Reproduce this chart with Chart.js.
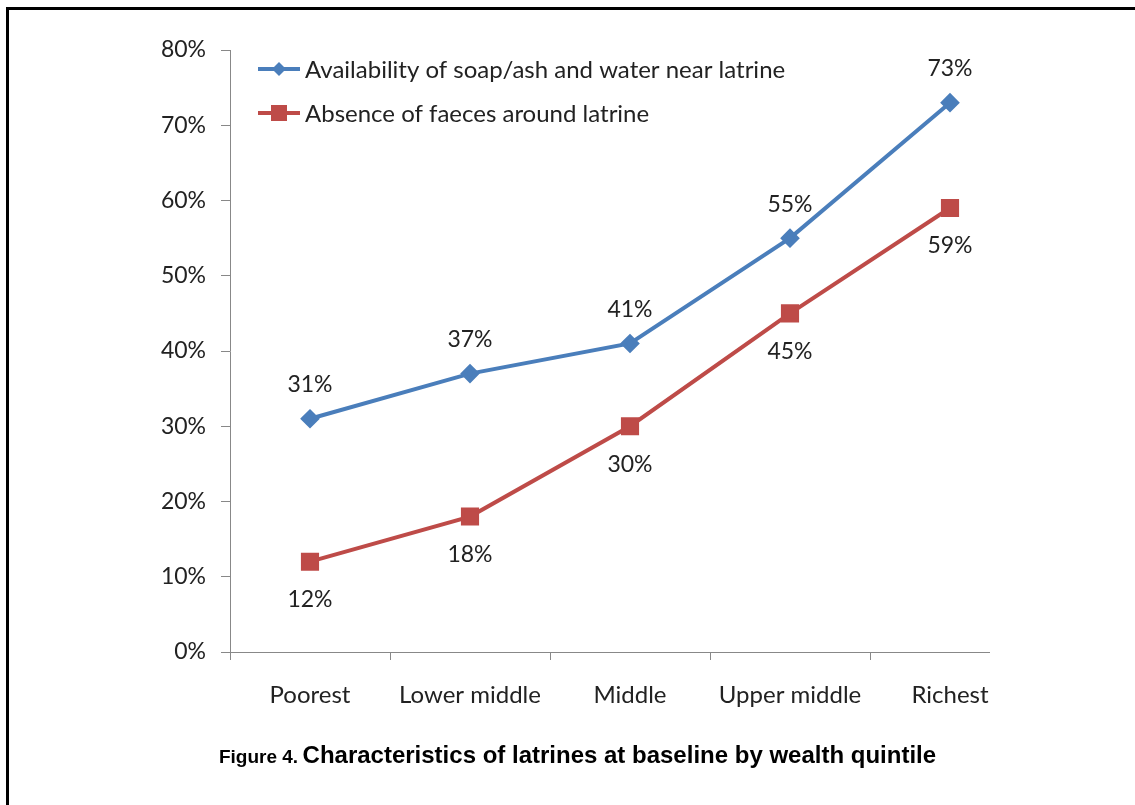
<!DOCTYPE html>
<html>
<head>
<meta charset="utf-8">
<script src="https://cdn.jsdelivr.net/npm/chart.js@4.4.1/dist/chart.umd.min.js"></script>
<style>
  html, body { margin: 0; padding: 0; background: #fff; }
  #wrap { position: relative; width: 1135px; height: 805px; }
  #frame { position: absolute; left: 6px; top: 7px; right: 0; bottom: 0;
           border-left: 3px solid #000; border-top: 3px solid #000; }
  #caption { position: absolute; left: 0; width: 1155px; top: 741px; text-align: center;
             font-family: "Liberation Sans", Arial, sans-serif; font-weight: bold; color: #000; }
  #caption .fig { font-size: 19px; }
  #caption .txt { font-size: 24px; }
</style>
</head>
<body>
<div id="wrap">
  <div id="frame"></div>
  <canvas id="myChart" width="1135" height="805"></canvas>
  <div id="caption"><span class="fig">Figure 4.</span> <span class="txt">Characteristics of latrines at baseline by wealth quintile</span></div>
</div>
<script>
const ctx = document.getElementById('myChart');

// categories and series
let quintiles = ['Poorest', 'Lower middle', 'Middle', 'Upper middle', 'Richest']
let soapWater = [31, 37, 41, 55, 73]
let noFaeces = [12, 18, 30, 45, 59]
let seriesNames = ['Availability of soap/ash and water near latrine', 'Absence of faeces around latrine']

const blue = '#4A7EBB'
const red = '#BE4B48'
const font = 'Lato, "Open Sans", sans-serif'

// value labels: blue above, red below
const valueLabels = {
  id: 'valueLabels',
  afterDatasetsDraw(chart) {
    const c = chart.ctx
    c.save()
    c.font = '23px ' + font
    c.fillStyle = '#222'
    c.textAlign = 'center'
    c.textBaseline = 'middle'
    chart.data.datasets.forEach((ds, i) => {
      chart.getDatasetMeta(i).data.forEach((pt, j) => {
        let dy = i === 0 ? -34 : 38
        c.fillText(ds.data[j] + '%', pt.x, pt.y + dy)
      })
    })
    c.restore()
  }
}

// legend drawn inside plot area, top-left
const innerLegend = {
  id: 'innerLegend',
  afterDraw(chart) {
    const c = chart.ctx
    const x0 = chart.chartArea.left + 28
    c.save()
    c.font = '24px ' + font
    c.textBaseline = 'middle'
    chart.data.datasets.forEach((ds, i) => {
      let y = 69 + i * 44
      c.strokeStyle = ds.borderColor
      c.lineWidth = 4
      c.beginPath()
      c.moveTo(x0, y)
      c.lineTo(x0 + 42, y)
      c.stroke()
      c.fillStyle = ds.backgroundColor
      if (ds.pointStyle === 'rectRot') {
        c.beginPath()
        c.moveTo(x0 + 21, y - 7)
        c.lineTo(x0 + 28, y)
        c.lineTo(x0 + 21, y + 7)
        c.lineTo(x0 + 14, y)
        c.closePath()
        c.fill()
      } else {
        c.fillRect(x0 + 13, y - 8, 16, 16)
      }
      c.fillStyle = '#222'
      c.fillText(ds.label, x0 + 47, y + 1)
    })
    c.restore()
  }
}

// x axis line stops short of the last category edge, like the original
const xAxisLine = {
  id: 'xAxisLine',
  afterDraw(chart) {
    const c = chart.ctx
    const a = chart.chartArea
    const x = chart.scales.x
    c.save()
    c.strokeStyle = '#888'
    c.lineWidth = 1
    c.beginPath()
    c.moveTo(a.left, Math.round(a.bottom) + 0.5)
    c.lineTo(x.getPixelForValue(4) + 40, Math.round(a.bottom) + 0.5)
    c.stroke()
    c.restore()
  }
}

new Chart(ctx, {
  type: 'line',
  data: {
    labels: quintiles,
    datasets: [{
      label: seriesNames[0],
      data: soapWater,
      borderColor: blue,
      backgroundColor: blue,
      borderWidth: 4,
      pointStyle: 'rectRot',
      pointRadius: 7,
      pointHoverRadius: 7
    }, {
      label: seriesNames[1],
      data: noFaeces,
      borderColor: red,
      backgroundColor: red,
      borderWidth: 4,
      pointStyle: 'rect',
      pointRadius: 10,
      pointHoverRadius: 10
    }]
  },
  options: {
    responsive: false,
    animation: false,
    layout: {
      padding: { left: 0, top: 50, right: 105, bottom: 0 }
    },
    scales: {
      x: {
        offset: true,
        afterFit(s) { s.height = 153 },
        border: { display: false },
        grid: {
          offset: true,
          drawOnChartArea: false,
          tickLength: 8,
          color: c => c.tick ? '#888' : 'rgba(0,0,0,0)'
        },
        ticks: { color: '#222', font: { family: font, size: 24 }, padding: 21 }
      },
      y: {
        min: 0,
        max: 80,
        afterFit(s) { s.width = 230 },
        border: { color: '#888', width: 1 },
        grid: { drawOnChartArea: false, tickLength: 9, color: '#888' },
        ticks: {
          stepSize: 10,
          color: '#222',
          font: { family: font, size: 23 },
          padding: 15,
          callback: v => v + '%'
        }
      }
    },
    plugins: {
      legend: { display: false },
      tooltip: { enabled: false }
    }
  },
  plugins: [valueLabels, innerLegend, xAxisLine]
});
</script>
</body>
</html>
